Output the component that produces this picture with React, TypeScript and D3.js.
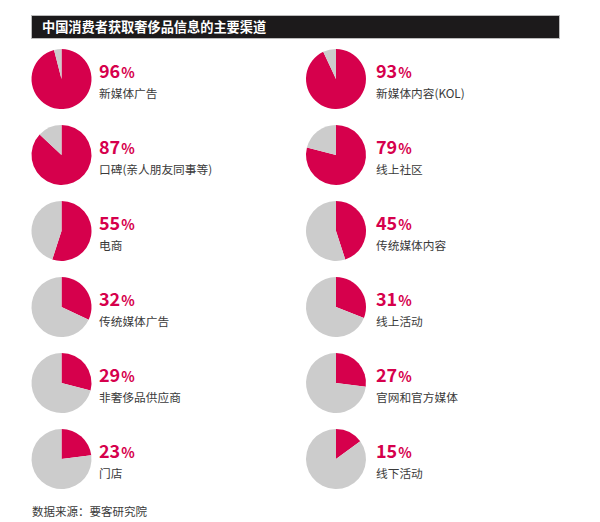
import React from "react";
import * as d3 from "d3";

const title = "中国消费者获取奢侈品信息的主要渠道";
const source = "数据来源：要客研究院";
const leftLabels = ["新媒体广告", "口碑(亲人朋友同事等)", "电商", "传统媒体广告", "非奢侈品供应商", "门店"];
const leftValues = [96, 87, 55, 32, 29, 23];
const rightLabels = ["新媒体内容(KOL)", "线上社区", "传统媒体内容", "线上活动", "官网和官方媒体", "线下活动"];
const rightValues = [93, 79, 45, 31, 27, 15];

const RED = "#d6004c";
const GRAY = "#cccccc";

function Pie({ cx, cy, r, value }: { cx: number; cy: number; r: number; value: number }) {
  const pie = d3.pie<number>().sort(null).value((d) => d);
  const arcs = pie([value, 100 - value]);
  const arc = d3.arc<d3.PieArcDatum<number>>().innerRadius(0).outerRadius(r);
  return (
    <g transform={`translate(${cx},${cy})`}>
      {arcs.map((a, i) => (
        <path key={i} d={arc(a) || ""} fill={i === 0 ? RED : GRAY} />
      ))}
    </g>
  );
}

export default function App() {
  const rowY = d3.scaleLinear().domain([0, 5]).range([79, 459]);
  const cols = [
    { pieX: 61.5, textX: 99, labels: leftLabels, values: leftValues },
    { pieX: 336, textX: 376, labels: rightLabels, values: rightValues },
  ];
  const font = "'Noto Sans CJK SC', 'Noto Sans', sans-serif";
  return (
    <svg
      width={600}
      height={522}
      style={{ position: "absolute", left: 0, top: 0, background: "#fff" }}
      fontFamily={font}
    >
      <rect x={31.5} y={15.5} width={528} height={23} fill="#1c1a1b" stroke="#bbb" strokeWidth={1} />
      <text x={42} y={32} fill="#fff" fontSize={13.2} fontWeight={700}>
        {title}
      </text>
      {cols.map((c, ci) =>
        c.values.map((v, i) => {
          const cy = rowY(i);
          return (
            <g key={`${ci}-${i}`}>
              <Pie cx={c.pieX} cy={cy} r={30} value={v} />
              <text x={c.textX} y={cy - 1} fill={RED} fontWeight={700}>
                <tspan fontSize={18}>{v}</tspan>
                <tspan fontSize={14} dx={1}>%</tspan>
              </text>
              <text x={c.textX} y={cy + 19} fill="#3a3a3a" fontSize={11.7}>
                {c.labels[i]}
              </text>
            </g>
          );
        })
      )}
      <text x={32} y={516} fill="#3a3a3a" fontSize={11.5}>
        {source}
      </text>
    </svg>
  );
}
